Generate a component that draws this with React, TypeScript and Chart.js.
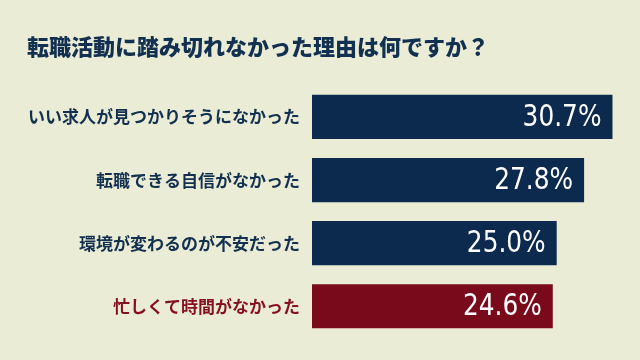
import React, { useEffect, useRef } from "react";
import { Chart, registerables } from "chart.js";

Chart.register(...registerables);

const TITLE = "転職活動に踏み切れなかった理由は何ですか？";
const CATEGORIES = [
  "いい求人が見つかりそうになかった",
  "転職できる自信がなかった",
  "環境が変わるのが不安だった",
  "忙しくて時間がなかった",
];
const VALUES = [30.7, 27.8, 25.0, 24.6];
const BAR_COLORS = ["#0b2a4d", "#0b2a4d", "#0b2a4d", "#790a1c"];
const LABEL_COLORS = ["#12304f", "#12304f", "#12304f", "#85101f"];
const BG = "#ebecd5";

const valueLabels = {
  id: "valueLabels",
  afterDatasetsDraw(chart: any) {
    const ctx = chart.ctx;
    const meta = chart.getDatasetMeta(0);
    meta.data.forEach((bar: any, i: number) => {
      const v = VALUES[i];
      const sx = 0.92;
      ctx.save();
      ctx.fillStyle = "#ffffff";
      ctx.font = "500 30px 'DejaVu Sans Condensed', 'DejaVu Sans', sans-serif";
      ctx.textAlign = "right";
      ctx.textBaseline = "middle";
      ctx.translate(bar.x - 11, bar.y + 1);
      ctx.scale(sx, 1);
      ctx.fillText(v.toFixed(1) + "%", 0, 0);
      ctx.restore();
    });
  },
};

const bgPlugin = {
  id: "bgFill",
  beforeDraw(chart: any) {
    const ctx = chart.ctx;
    ctx.save();
    ctx.fillStyle = BG;
    ctx.fillRect(0, 0, chart.width, chart.height);
    ctx.restore();
  },
};

export default function App() {
  const ref = useRef<HTMLCanvasElement>(null);
  useEffect(() => {
    document.body.style.margin = "0";
    const chart = new Chart(ref.current!, {
      type: "bar",
      data: {
        labels: CATEGORIES,
        datasets: [
          {
            data: VALUES,
            backgroundColor: BAR_COLORS,
            borderWidth: 0,
            barPercentage: 0.7,
            categoryPercentage: 1,
          },
        ],
      },
      options: {
        indexAxis: "y",
        animation: false,
        responsive: false,
        layout: { padding: { left: 27, right: 5, top: 0, bottom: 21 } },
        plugins: {
          legend: { display: false },
          tooltip: { enabled: false },
          title: {
            display: true,
            text: TITLE,
            align: "start",
            color: "#12304f",
            font: { family: "'Noto Sans CJK JP', sans-serif", size: 22, weight: "900", lineHeight: 1.2 },
            padding: { top: 33, bottom: 26 },
          },
        },
        scales: {
          x: { display: false, min: 0, max: 33 },
          y: {
            afterFit(scale: any) {
              scale.width = 285;
            },
            grid: { display: false, drawTicks: false },
            border: { display: false },
            ticks: {
              padding: 12,
              color: LABEL_COLORS,
              font: { family: "'Noto Sans CJK JP', sans-serif", size: 17, weight: "bold" },
            },
          },
        },
      },
      plugins: [bgPlugin, valueLabels],
    });
    return () => chart.destroy();
  }, []);
  return (
    <div style={{ width: 640, height: 360 }}>
      <canvas ref={ref} width={640} height={360} style={{ display: "block" }} />
    </div>
  );
}
